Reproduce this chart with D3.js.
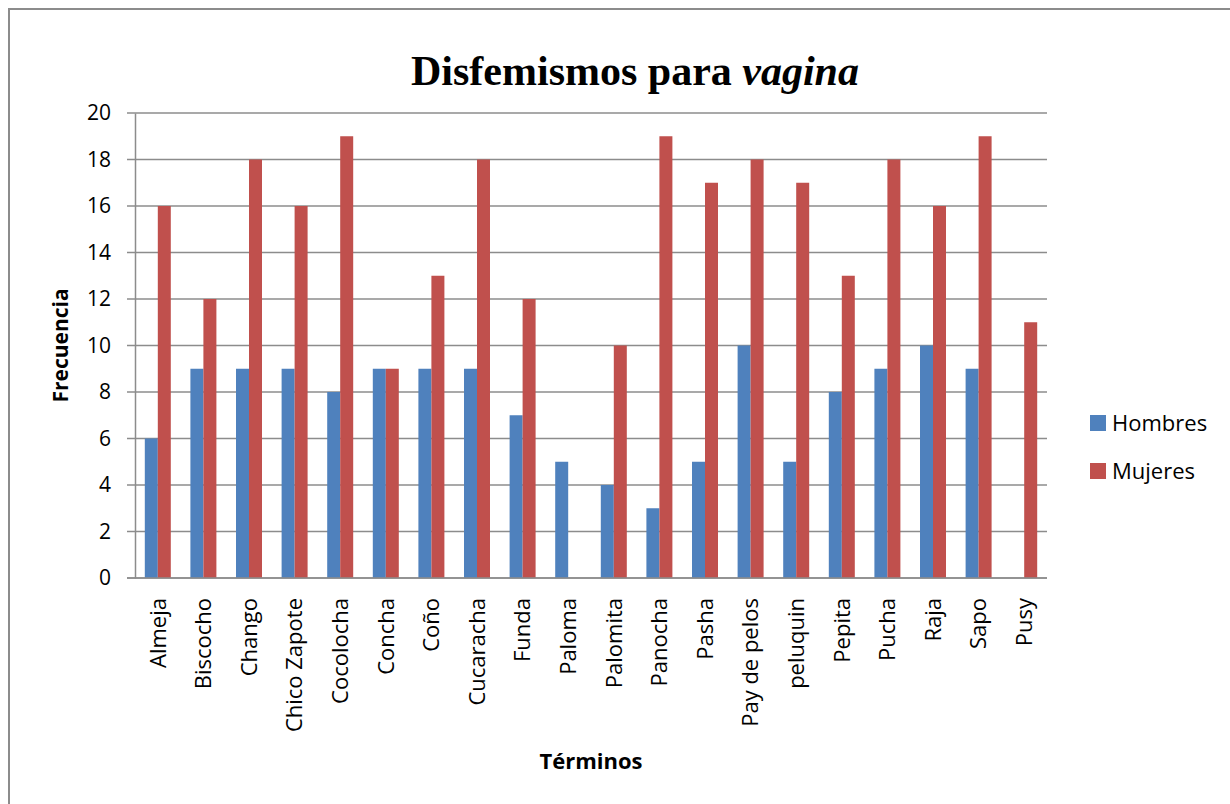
<!DOCTYPE html>
<html>
<head>
<meta charset="utf-8">
<script src="https://cdn.jsdelivr.net/npm/d3@7"></script>
<style>
  body { margin: 0; background: #fff; }
  svg text { font-family: "Open Sans", sans-serif; fill: #000; }
</style>
</head>
<body>
<div id="chart"></div>
<script>
var terminos = ["Almeja", "Biscocho", "Chango", "Chico Zapote", "Cocolocha", "Concha", "Coño",
  "Cucaracha", "Funda", "Paloma", "Palomita", "Panocha", "Pasha", "Pay de pelos", "peluquin",
  "Pepita", "Pucha", "Raja", "Sapo", "Pusy"];
var hombres = [6, 9, 9, 9, 8, 9, 9, 9, 7, 5, 4, 3, 5, 10, 5, 8, 9, 10, 9, 0];
var mujeres = [16, 12, 18, 16, 19, 9, 13, 18, 12, 0, 10, 19, 17, 18, 17, 13, 18, 16, 19, 11];
var series = ["Hombres", "Mujeres"];
var colores = ["#4F81BD", "#C0504D"];
var yTicks = [0, 2, 4, 6, 8, 10, 12, 14, 16, 18, 20];

function init() {
  var width = 1230, height = 804;
  var left = 135, right = 1047, top = 113, bottom = 578;

  var svg = d3.select("#chart").append("svg")
    .attr("width", width)
    .attr("height", height);

  // chart border
  svg.append("rect")
    .attr("x", 9).attr("y", 9)
    .attr("width", 1240).attr("height", 820)
    .attr("fill", "none")
    .attr("stroke", "#8c8c8c")
    .attr("stroke-width", 2);

  var x0 = d3.scaleBand()
    .domain(terminos)
    .range([left, right])
    .paddingInner(0.43)
    .paddingOuter(0.215);

  var x1 = d3.scaleBand()
    .domain(series)
    .range([0, x0.bandwidth()]);

  var y = d3.scaleLinear()
    .domain([0, 20])
    .range([bottom, top]);

  // gridlines
  svg.append("g")
    .selectAll("line")
    .data(yTicks)
    .enter()
    .append("line")
    .attr("x1", left - 8)
    .attr("x2", right)
    .attr("y1", function(d) { return y(d); })
    .attr("y2", function(d) { return y(d); })
    .attr("stroke", "#8c8c8c")
    .attr("stroke-width", 1.5);

  var yAxis = d3.axisLeft(y)
    .tickValues(yTicks)
    .tickSize(0)
    .tickPadding(24);

  var gy = svg.append("g")
    .attr("transform", "translate(" + left + ",0)")
    .call(yAxis);
  gy.select(".domain").attr("stroke", "#8c8c8c").attr("stroke-width", 1.5);
  gy.selectAll("text").attr("font-size", "21px").attr("font-family", "Open Sans");

  // bars
  var grupos = svg.append("g")
    .selectAll("g")
    .data(terminos)
    .enter()
    .append("g")
    .attr("transform", function(d) { return "translate(" + x0(d) + ",0)"; });

  grupos.selectAll("rect")
    .data(function(d, i) {
      return [{ s: "Hombres", v: hombres[i], c: 0 }, { s: "Mujeres", v: mujeres[i], c: 1 }];
    })
    .enter()
    .append("rect")
    .attr("x", function(d) { return x1(d.s); })
    .attr("y", function(d) { return y(d.v); })
    .attr("width", x1.bandwidth())
    .attr("height", function(d) { return y(0) - y(d.v); })
    .attr("fill", function(d) { return colores[d.c]; });

  // x axis
  var xAxis = d3.axisBottom(x0).tickSize(0).tickPadding(0);
  var gx = svg.append("g")
    .attr("transform", "translate(0," + bottom + ")")
    .call(xAxis);
  gx.select(".domain").remove();
  gx.selectAll("text")
    .attr("font-size", "22px")
    .attr("font-family", "Open Sans")
    .attr("transform", "rotate(-90)")
    .attr("text-anchor", "end")
    .attr("x", -20)
    .attr("y", 0)
    .attr("dy", "0.35em");

  svg.append("line")
    .attr("x1", left - 8).attr("x2", right)
    .attr("y1", bottom).attr("y2", bottom)
    .attr("stroke", "#8c8c8c")
    .attr("stroke-width", 1.5);

  // titles
  var titulo = svg.append("text")
    .attr("x", 635)
    .attr("y", 85)
    .attr("text-anchor", "middle")
    .style("font-family", "'Liberation Serif', 'Times New Roman', serif")
    .attr("font-size", "42px")
    .attr("font-weight", "bold");
  titulo.append("tspan").text("Disfemismos para ");
  titulo.append("tspan").attr("font-style", "italic").text("vagina");

  svg.append("text")
    .attr("x", (left + right) / 2)
    .attr("y", 769)
    .attr("text-anchor", "middle")
    .attr("font-size", "22px")
    .attr("font-weight", "bold")
    .text("Términos");

  svg.append("text")
    .attr("transform", "translate(68," + ((top + bottom) / 2) + ") rotate(-90)")
    .attr("text-anchor", "middle")
    .attr("font-size", "21px")
    .attr("font-weight", "bold")
    .text("Frecuencia");

  // legend
  var leyenda = svg.append("g")
    .selectAll("g")
    .data(series)
    .enter()
    .append("g")
    .attr("transform", function(d, i) { return "translate(1090," + (415 + i * 48) + ")"; });

  leyenda.append("rect")
    .attr("width", 16).attr("height", 16)
    .attr("fill", function(d, i) { return colores[i]; });

  leyenda.append("text")
    .attr("x", 22)
    .attr("y", 8)
    .attr("dy", "0.35em")
    .attr("font-size", "22px")
    .text(function(d) { return d; });
}
window.onload = init;
</script>
</body>
</html>
